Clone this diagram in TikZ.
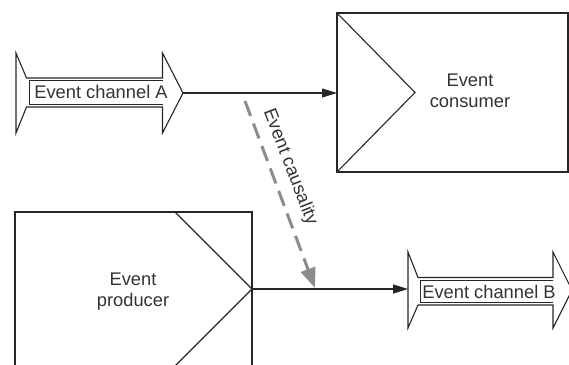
\documentclass[tikz,border=0pt]{standalone}
\usepackage{fontspec}
\setmainfont{Liberation Sans}
\usetikzlibrary{arrows.meta}
\begin{document}
\begin{tikzpicture}[x=1pt,y=-1pt,
  shapeline/.style={draw=black!85, line width=1.1pt, line join=miter},
  innerline/.style={draw=black!85, line width=0.8pt},
  lbl/.style={font=\fontsize{18.3}{21}\selectfont, inner sep=0pt, align=center, text=black!80},
  flow/.style={draw=black!85, line width=1.1pt, -{Triangle[length=15pt,width=9pt]}},
  causal/.style={draw=black!45, line width=3pt, dash pattern=on 16pt off 8pt, -{Triangle[length=20pt,width=15pt]}}]
\useasboundingbox (0,0) rectangle (569,364);
% Event channel A
\draw[shapeline] (16,53) -- (26.5,78) -- (162.5,78) -- (162.5,53) -- (183,93) -- (162.5,133) -- (162.5,107) -- (26.5,107) -- (16,133) -- cycle;
\draw[innerline] (162.5,80.5) -- (29,80.5) -- (29,104.5) -- (162.5,104.5);
\node[lbl] (chA) at (101,92) {Event channel A};
\coordinate (chAtip) at (183,93);
% Event consumer
\draw[shapeline] (337,13) rectangle (568,172);
\draw[shapeline] (337,13) -- (415,92.5) -- (337,172);
\node[lbl] (cons) at (470,90.5) {Event\\consumer};
\coordinate (consIn) at (337,93);
\draw[flow] (chAtip) -- (consIn);
% Event producer
\draw[shapeline] (15,370) -- (15,212) -- (252,212) -- (252,370);
\draw[shapeline] (175,212) -- (252,289) -- (175,366);
\node[lbl] (prod) at (133,292) {Event\\producer};
\coordinate (prodOut) at (252,289);
% Event channel B
\draw[shapeline] (408,252) -- (418,277.5) -- (553,277.5) -- (553,252) -- (572,290) -- (553,328) -- (553,305) -- (418,305) -- (408,328) -- cycle;
\draw[innerline] (553,280) -- (420.5,280) -- (420.5,302.5) -- (553,302.5);
\node[lbl] (chB) at (489,291.5) {Event channel B};
\coordinate (chBin) at (408,289);
\draw[flow] (prodOut) -- (chBin);
% Event causality
\coordinate (cs) at (245,101);
\coordinate (ce) at (315,288);
\draw[causal] (cs) -- (ce);
\node[lbl, rotate=-69] (caus) at (290,167) {Event causality};
\end{tikzpicture}
\end{document}
